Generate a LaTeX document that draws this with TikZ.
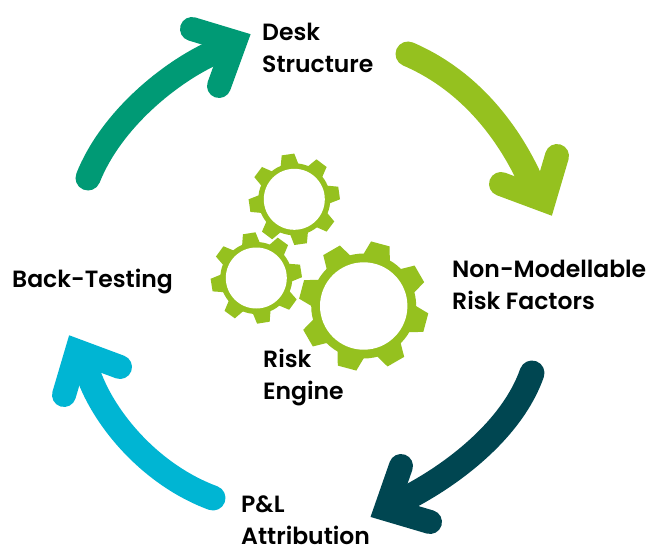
\documentclass[tikz,border=0pt]{standalone}
\usepackage{fontspec}
\setmainfont{Poppins}[BoldFont={* SemiBold}]
\definecolor{cLime}{HTML}{95C11F}
\definecolor{cGreen}{HTML}{009A75}
\definecolor{cTeal}{HTML}{004651}
\definecolor{cBlue}{HTML}{00B5D3}
\tikzset{
  shaft/.style={line width=25pt,line cap=round,line join=round},
  head/.style={line width=24pt,line cap=round,line join=miter,miter limit=10},
  lab/.style={anchor=base west,align=left,inner sep=0pt,text=black,font=\fontsize{23.5}{32}\selectfont},
}
% cx cy hole root tip offset tiphalf roothalf
\newcommand{\mygear}[8]{%
  \begin{scope}[shift={(#1,#2)}]
    \fill[cLime] (0,0) circle[radius=#4];
    \foreach \k in {0,...,7}{
      \pgfmathsetmacro{\aa}{#6+45*\k}
      \fill[cLime] (\aa-#8:#4-1) -- (\aa-#7:#5) -- (\aa+#7:#5) -- (\aa+#8:#4-1) -- cycle;
    }
    \fill[white] (0,0) circle[radius=#3];
  \end{scope}}
\begin{document}
\begin{tikzpicture}[x=1pt,y=-1pt]
\useasboundingbox (0,0) rectangle (654,546);
\fill[white] (0,0) rectangle (654,546);
% arrows
\draw[shaft,cLime] (408,54) .. controls (478,84) and (515,145) .. (532,184);
\draw[head,cLime] (557,156) -- (544,200) -- (501,184);
\draw[shaft,cTeal] (532,373) .. controls (512,430) and (452,475) .. (405,499);
\draw[head,cTeal] (401,466) -- (386,509) -- (430,522);
\draw[shaft,cBlue] (213,498) .. controls (148,474) and (101,415) .. (87,370);
\draw[head,cBlue] (64,395) -- (77,351) -- (120,367);
\draw[shaft,cGreen] (88,178) .. controls (111,120) and (170,72) .. (215,52);
\draw[head,cGreen] (192,29) -- (235,42) -- (219,86);
% gears (y axis is flipped, so the offsets are mirrored)
\mygear{294.3}{199.3}{30.5}{36}{45.7}{-98}{8}{15}
\mygear{256.3}{278}{30.5}{36}{45.7}{-99}{8}{15}
\mygear{363.7}{306}{43.7}{52.5}{65}{-75}{8.5}{15.5}
% labels
\node[lab] (desk) at (262,72) {\textbf{Desk}\\\textbf{Structure}};
\node[lab] (nmrf) at (452,309) {\textbf{Non-Modellable}\\\textbf{Risk Factors}};
\node[lab] (pnl) at (241,544) {\textbf{P\&L}\\\textbf{Attribution}};
\node[lab] (bt) at (12,287) {\textbf{Back-Testing}};
\node[lab] (re) at (263,399) {\textbf{Risk}\\\textbf{Engine}};
\end{tikzpicture}
\end{document}
